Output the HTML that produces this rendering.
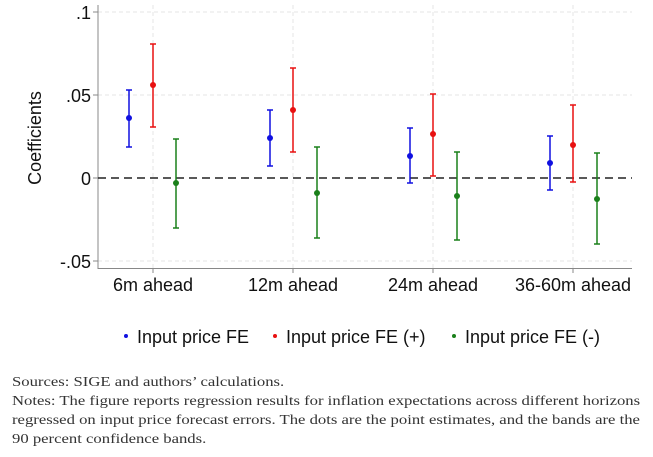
<!DOCTYPE html>
<html><head><meta charset="utf-8"><style>
body{margin:0;background:#fff;width:653px;height:457px;overflow:hidden}
svg{position:absolute;left:0;top:0}
.notes{position:absolute;left:12px;top:373px;font-family:"Liberation Serif",serif;font-size:14px;line-height:19px;color:#333;white-space:nowrap;transform-origin:0 0;transform:scaleX(1.19)}
</style></head><body>
<svg width="653" height="370" font-family="Liberation Sans, sans-serif">
<g stroke="#e6e6e6" stroke-width="1" stroke-dasharray="4,3">
<line x1="98" y1="12" x2="632" y2="12"/><line x1="98" y1="95" x2="632" y2="95"/><line x1="98" y1="261" x2="632" y2="261"/>
<line x1="153" y1="5" x2="153" y2="268"/><line x1="293" y1="5" x2="293" y2="268"/><line x1="433" y1="5" x2="433" y2="268"/><line x1="573" y1="5" x2="573" y2="268"/>
</g>
<line x1="98" y1="5" x2="98" y2="269" stroke="#888"/>
<line x1="98" y1="268.5" x2="632" y2="268.5" stroke="#888"/>
<g stroke="#888"><line x1="93" y1="12" x2="98" y2="12"/><line x1="93" y1="95" x2="98" y2="95"/><line x1="93" y1="178" x2="98" y2="178"/><line x1="93" y1="261" x2="98" y2="261"/>
<line x1="153" y1="268" x2="153" y2="273"/><line x1="293" y1="268" x2="293" y2="273"/><line x1="433" y1="268" x2="433" y2="273"/><line x1="573" y1="268" x2="573" y2="273"/></g>
<line x1="98" y1="178" x2="632" y2="178" stroke="#222" stroke-width="1.5" stroke-dasharray="8,5"/>
<g font-size="18" fill="#111" text-anchor="end">
<text x="91" y="19">.1</text><text x="91" y="102">.05</text><text x="91" y="185">0</text><text x="91" y="268">-.05</text></g>
<text transform="translate(41,138) rotate(-90)" font-size="18" text-anchor="middle" fill="#111">Coefficients</text>
<g font-size="18" fill="#111" text-anchor="middle">
<text x="153" y="291">6m ahead</text><text x="293" y="291">12m ahead</text><text x="433" y="291">24m ahead</text><text x="573" y="291">36-60m ahead</text></g>
<g stroke-width="1.5">
<g stroke="#1010e0" fill="#1010e0">
<line x1="129" y1="90" x2="129" y2="147"/><line x1="126" y1="90" x2="132" y2="90"/><line x1="126" y1="147" x2="132" y2="147"/><circle cx="129" cy="118" r="3" stroke="none"/>
<line x1="270" y1="110" x2="270" y2="166"/><line x1="267" y1="110" x2="273" y2="110"/><line x1="267" y1="166" x2="273" y2="166"/><circle cx="270" cy="138" r="3" stroke="none"/>
<line x1="410" y1="128" x2="410" y2="183"/><line x1="407" y1="128" x2="413" y2="128"/><line x1="407" y1="183" x2="413" y2="183"/><circle cx="410" cy="156" r="3" stroke="none"/>
<line x1="550" y1="136" x2="550" y2="190"/><line x1="547" y1="136" x2="553" y2="136"/><line x1="547" y1="190" x2="553" y2="190"/><circle cx="550" cy="163" r="3" stroke="none"/>
</g>
<g stroke="#e81010" fill="#e81010">
<line x1="153" y1="44" x2="153" y2="127"/><line x1="150" y1="44" x2="156" y2="44"/><line x1="150" y1="127" x2="156" y2="127"/><circle cx="153" cy="85" r="3" stroke="none"/>
<line x1="293" y1="68" x2="293" y2="152"/><line x1="290" y1="68" x2="296" y2="68"/><line x1="290" y1="152" x2="296" y2="152"/><circle cx="293" cy="110" r="3" stroke="none"/>
<line x1="433" y1="94" x2="433" y2="176"/><line x1="430" y1="94" x2="436" y2="94"/><line x1="430" y1="176" x2="436" y2="176"/><circle cx="433" cy="134" r="3" stroke="none"/>
<line x1="573" y1="105" x2="573" y2="182"/><line x1="570" y1="105" x2="576" y2="105"/><line x1="570" y1="182" x2="576" y2="182"/><circle cx="573" cy="145" r="3" stroke="none"/>
</g>
<g stroke="#1a801a" fill="#1a801a">
<line x1="176" y1="139" x2="176" y2="228"/><line x1="173" y1="139" x2="179" y2="139"/><line x1="173" y1="228" x2="179" y2="228"/><circle cx="176" cy="183" r="3" stroke="none"/>
<line x1="317" y1="147" x2="317" y2="238"/><line x1="314" y1="147" x2="320" y2="147"/><line x1="314" y1="238" x2="320" y2="238"/><circle cx="317" cy="193" r="3" stroke="none"/>
<line x1="457" y1="152" x2="457" y2="240"/><line x1="454" y1="152" x2="460" y2="152"/><line x1="454" y1="240" x2="460" y2="240"/><circle cx="457" cy="196" r="3" stroke="none"/>
<line x1="597" y1="153" x2="597" y2="244"/><line x1="594" y1="153" x2="600" y2="153"/><line x1="594" y1="244" x2="600" y2="244"/><circle cx="597" cy="199" r="3" stroke="none"/>
</g>
</g>
<g font-size="18" fill="#111">
<circle cx="126" cy="336" r="2" fill="#1010e0"/><text x="137" y="343">Input price FE</text>
<circle cx="275" cy="336" r="2" fill="#e81010"/><text x="286" y="343">Input price FE (+)</text>
<circle cx="454" cy="336" r="2" fill="#1a801a"/><text x="465" y="343">Input price FE (-)</text>
</g>
</svg>
<div class="notes">Sources: SIGE and authors’ calculations.<br>Notes: The figure reports regression results for inflation expectations across different horizons<br>regressed on input price forecast errors. The dots are the point estimates, and the bands are the<br>90 percent confidence bands.</div>
</body></html>
